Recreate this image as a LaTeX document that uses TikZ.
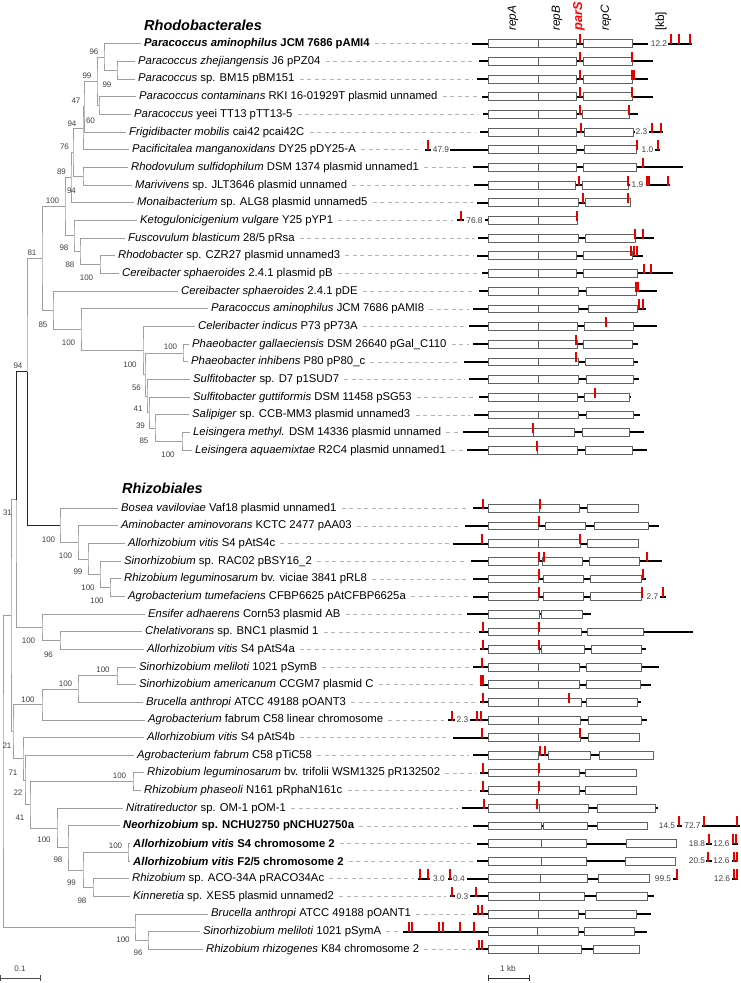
\documentclass[tikz,border=0pt]{standalone}
\usepackage{fontspec}
\setmainfont{Liberation Sans}
\usetikzlibrary{positioning, calc}

% gene map helpers
\newcommand{\plrow}[4]{% label no., y, line from, line to
  \draw[dots] ([xshift=5pt]l#1.east) -- ({#3-4},#2);
  \draw[dna] (#3,#2) -- (#4,#2);}
\newcommand{\dnaseg}[3]{\draw[dna] (#2,#1) -- (#3,#1);}
\newcommand{\genebox}[2]{\foreach \ga/\gb in {#2} \draw[gene] (\ga,#1-3.9) rectangle (\gb,#1+3.9);}
\newcommand{\genediv}[2]{\foreach \dd in {#2} \draw[gene] (\dd,#1-3.9) -- (\dd,#1+3.9);}
\newcommand{\parsite}[2]{\foreach \tk in {#2} \draw[par] (\tk,#1-9.5) -- (\tk,#1+0.5);}
\newcommand{\kbnum}[4]{\node[kbn] (#1) at (#2,#3) {#4};}

\begin{document}
\begin{tikzpicture}[x=1pt,y=-1pt,
    leaf/.style={anchor=west, inner sep=0pt, font=\fontsize{11.3}{13}\selectfont},
    ttl/.style={anchor=west, inner sep=0pt, font=\fontsize{14.5}{16}\selectfont\bfseries\itshape},
    hdr/.style={rotate=90, anchor=west, inner sep=0pt, font=\fontsize{11.8}{13}\selectfont\itshape},
    bs/.style={inner sep=0pt, text=black!75, font=\fontsize{8}{9}\selectfont},
    kbn/.style={inner sep=0pt, text=black!75, font=\fontsize{8.3}{9}\selectfont},
    br/.style={draw=black!38, line width=0.9pt},
    brk/.style={draw=black!85, line width=1pt},
    dots/.style={draw=black!30, line width=0.6pt, dash pattern=on 4pt off 3.5pt},
    dna/.style={draw=black, line width=2pt},
    gene/.style={draw=black!62, fill=white, line width=0.8pt},
    par/.style={draw=red!90!black, line width=1.3pt},
    ]
    \useasboundingbox (0,0) rectangle (740,983);

    % Titles and column heads
    \node[ttl] (rhodo) at (144,25) {Rhodobacterales};
    \node[ttl] (rhizo) at (122,488) {Rhizobiales};
    \node[hdr] (hrepA) at (513,31) {repA};
    \node[hdr] (hrepB) at (557,31) {repB};
    \node[hdr, text=red, font=\fontsize{12.8}{14}\selectfont\bfseries\itshape] (hparS) at (579,31) {parS};
    \node[hdr] (hrepC) at (606,31) {repC};
    \node[hdr, font=\fontsize{11.8}{13}\selectfont] (hkb) at (661,31) {[kb]};

    % Leaves
    \node[leaf] (l1) at (144,43.7) {\textbf{\textit{Paracoccus aminophilus} JCM 7686 pAMI4}};
    \node[leaf] (l2) at (138,61.4) {\textit{Paracoccus zhejiangensis} J6 pPZ04};
    \node[leaf] (l3) at (138,79.0) {\textit{Paracoccus} sp. BM15 pBM151};
    \node[leaf] (l4) at (139,96.7) {\textit{Paracoccus contaminans} RKI 16-01929T plasmid unnamed};
    \node[leaf] (l5) at (134,114.4) {\textit{Paracoccus} yeei TT13 pTT13-5};
    \node[leaf] (l6) at (129,132.1) {\textit{Frigidibacter mobilis} cai42 pcai42C};
    \node[leaf] (l7) at (132,149.7) {\textit{Pacificitalea manganoxidans} DY25 pDY25-A};
    \node[leaf] (l8) at (131,167.4) {\textit{Rhodovulum sulfidophilum} DSM 1374 plasmid unnamed1};
    \node[leaf] (l9) at (135,185.1) {\textit{Marivivens} sp. JLT3646 plasmid unnamed};
    \node[leaf] (l10) at (137,202.7) {\textit{Monaibacterium} sp. ALG8 plasmid unnamed5};
    \node[leaf] (l11) at (140,220.4) {\textit{Ketogulonicigenium vulgare} Y25 pYP1};
    \node[leaf] (l12) at (128,238.1) {\textit{Fuscovulum blasticum} 28/5 pRsa};
    \node[leaf] (l13) at (118,255.7) {\textit{Rhodobacter} sp. CZR27 plasmid unnamed3};
    \node[leaf] (l14) at (122,273.4) {\textit{Cereibacter sphaeroides} 2.4.1 plasmid pB};
    \node[leaf] (l15) at (181,291.1) {\textit{Cereibacter sphaeroides} 2.4.1 pDE};
    \node[leaf] (l16) at (211,308.8) {\textit{Paracoccus aminophilus} JCM 7686 pAMI8};
    \node[leaf] (l17) at (198,326.4) {\textit{Celeribacter indicus} P73 pP73A};
    \node[leaf] (l18) at (192,344.1) {\textit{Phaeobacter gallaeciensis} DSM 26640 pGal\_C110};
    \node[leaf] (l19) at (191,361.8) {\textit{Phaeobacter inhibens} P80 pP80\_c};
    \node[leaf] (l20) at (193,379.4) {\textit{Sulfitobacter} sp. D7 p1SUD7};
    \node[leaf] (l21) at (193,397.1) {\textit{Sulfitobacter guttiformis} DSM 11458 pSG53};
    \node[leaf] (l22) at (192,414.8) {\textit{Salipiger} sp. CCB-MM3 plasmid unnamed3};
    \node[leaf] (l23) at (193,432.4) {\textit{Leisingera methyl.} DSM 14336 plasmid unnamed};
    \node[leaf] (l24) at (195,450.1) {\textit{Leisingera aquaemixtae} R2C4 plasmid unnamed1};
    \node[leaf] (l25) at (121,508.3) {\textit{Bosea vaviloviae} Vaf18 plasmid unnamed1};
    \node[leaf] (l26) at (121,525.9) {\textit{Aminobacter aminovorans} KCTC 2477 pAA03};
    \node[leaf] (l27) at (128,543.6) {\textit{Allorhizobium vitis} S4 pAtS4c};
    \node[leaf] (l28) at (124,561.2) {\textit{Sinorhizobium} sp. RAC02 pBSY16\_2};
    \node[leaf] (l29) at (124,578.9) {\textit{Rhizobium leguminosarum} bv. viciae 3841 pRL8};
    \node[leaf] (l30) at (128,596.5) {\textit{Agrobacterium tumefaciens} CFBP6625 pAtCFBP6625a};
    \node[leaf] (l31) at (148,614.1) {\textit{Ensifer adhaerens} Corn53 plasmid AB};
    \node[leaf] (l32) at (145,631.8) {\textit{Chelativorans} sp. BNC1 plasmid 1};
    \node[leaf] (l33) at (147,649.4) {\textit{Allorhizobium vitis} S4 pAtS4a};
    \node[leaf] (l34) at (139,667.1) {\textit{Sinorhizobium meliloti} 1021 pSymB};
    \node[leaf] (l35) at (139,684.7) {\textit{Sinorhizobium americanum} CCGM7 plasmid C};
    \node[leaf] (l36) at (146,702.3) {\textit{Brucella anthropi} ATCC 49188 pOANT3};
    \node[leaf] (l37) at (148,720.0) {\textit{Agrobacterium} fabrum C58 linear chromosome};
    \node[leaf] (l38) at (147,737.6) {\textit{Allorhizobium vitis} S4 pAtS4b};
    \node[leaf] (l39) at (137,755.3) {\textit{Agrobacterium fabrum} C58 pTiC58};
    \node[leaf] (l40) at (147,772.9) {\textit{Rhizobium leguminosarum} bv. trifolii WSM1325 pR132502};
    \node[leaf] (l41) at (144,790.5) {\textit{Rhizobium phaseoli} N161 pRphaN161c};
    \node[leaf] (l42) at (126,808.2) {\textit{Nitratireductor} sp. OM-1 pOM-1};
    \node[leaf] (l43) at (123,825.8) {\textbf{\textit{Neorhizobium} sp. NCHU2750 pNCHU2750a}};
    \node[leaf] (l44) at (133,843.5) {\textbf{\textit{Allorhizobium vitis} S4 chromosome 2}};
    \node[leaf] (l45) at (133,861.1) {\textbf{\textit{Allorhizobium vitis} F2/5 chromosome 2}};
    \node[leaf] (l46) at (132,878.7) {\textit{Rhizobium} sp. ACO-34A pRACO34Ac};
    \node[leaf] (l47) at (133,896.4) {\textit{Kinneretia} sp. XES5 plasmid unnamed2};
    \node[leaf] (l48) at (211,914.0) {\textit{Brucella anthropi} ATCC 49188 pOANT1};
    \node[leaf] (l49) at (203,931.7) {\textit{Sinorhizobium meliloti} 1021 pSymA};
    \node[leaf] (l50) at (206,949.3) {\textit{Rhizobium rhizogenes} K84 chromosome 2};
    \foreach \i in {1,...,50} \coordinate (t\i) at ([xshift=-3pt]l\i.west);

    % Internal nodes, Rhodobacterales
    \coordinate (nA) at (117,70.2);  \coordinate (nB) at (104,57.0);
    \coordinate (nC) at (99,105.6);  \coordinate (nD) at (97,81.3);
    \coordinate (nE) at (84,106.7);  \coordinate (nF) at (83,128.2);
    \coordinate (nG) at (83,176.3);  \coordinate (nH) at (73,152.3);
    \coordinate (nI) at (71,177.5);  \coordinate (nN) at (100,264.6);
    \coordinate (nM) at (80,251.4);  \coordinate (nL) at (74,235.9);
    \coordinate (nK) at (65,206.7);  \coordinate (nT) at (183,353.0);
    \coordinate (nV) at (182,441.3); \coordinate (nW) at (155,428.1);
    \coordinate (nX) at (149,412.6); \coordinate (nY) at (147,396.0);
    \coordinate (nS) at (145,374.5); \coordinate (nR) at (143,350.5);
    \coordinate (nQ) at (81,329.7);  \coordinate (nP) at (53,310.4);
    \coordinate (nO) at (42,258.6);  \coordinate (nZ) at (27,371.5);
    % Internal nodes, Rhizobiales
    \coordinate (ns1) at (110,587.7); \coordinate (ns2) at (100,574.5);
    \coordinate (ns3) at (88,559.1);  \coordinate (ns4) at (78,542.5);
    \coordinate (nBc) at (60,525.4);  \coordinate (nk) at (60,640.6);
    \coordinate (nl) at (42,627.4);   \coordinate (n31) at (16,499.5);
    \coordinate (nj) at (117,675.9);  \coordinate (ni) at (78,689.1);
    \coordinate (nh) at (42,704.6);   \coordinate (nRl) at (133,781.7);
    \coordinate (nAv) at (128,852.3); \coordinate (nRK) at (93,887.6);
    \coordinate (na) at (83,870.0);   \coordinate (nb) at (68,847.9);
    \coordinate (nc) at (57,828.1);   \coordinate (nd) at (30,804.9);
    \coordinate (ne) at (25,780.1);   \coordinate (nf) at (23,758.9);
    \coordinate (ng) at (13,731.8);   \coordinate (nq) at (11,615.7);
    \coordinate (nt1) at (148,940.5); \coordinate (nt2) at (135,927.3);
    \coordinate (nroot) at (3,771.5);

    % Branches
    \draw[br] (t2) -| (nA) |- (t3);
    \draw[br] (t1) -| (nB) |- (nA);
    \draw[br] (t4) -| (nC) |- (t5);
    \draw[br] (nB) -| (nD) |- (nC);
    \draw[br] (nD) -| (nE) |- (t6);
    \draw[br] (nE) -| (nF) |- (t7);
    \draw[br] (t8) -| (nG) |- (t9);
    \draw[br] (nF) -| (nH) |- (nG);
    \draw[br] (nH) -| (nI) |- (t10);
    \draw[br] (t13) -| (nN) |- (t14);
    \draw[br] (t12) -| (nM) |- (nN);
    \draw[br] (t11) -| (nL) |- (nM);
    \draw[br] (nI) -| (nK) |- (nL);
    \draw[br] (t18) -| (nT) |- (t19);
    \draw[br] (t23) -| (nV) |- (t24);
    \draw[br] (t22) -| (nW) |- (nV);
    \draw[br] (t21) -| (nX) |- (nW);
    \draw[br] (t20) -| (nY) |- (nX);
    \draw[br] (nT) -| (nS) |- (nY);
    \draw[br] (t17) -| (nR) |- (nS);
    \draw[br] (t16) -| (nQ) |- (nR);
    \draw[br] (t15) -| (nP) |- (nQ);
    \draw[br] (nK) -| (nO) |- (nP);
    \draw[br] (t29) -| (ns1) |- (t30);
    \draw[br] (t28) -| (ns2) |- (ns1);
    \draw[br] (t27) -| (ns3) |- (ns2);
    \draw[br] (t26) -| (ns4) |- (ns3);
    \draw[br] (t25) -| (nBc) |- (ns4);
    \draw[br] (nO) -| (nZ) |- (nBc);
    \draw[brk] (nZ) |- (nBc);
    \draw[br] (t32) -| (nk) |- (t33);
    \draw[br] (t31) -| (nl) |- (nk);
    \draw[br] (nZ) -| (n31) |- (nl);
    \draw[brk] (nZ) -| (n31);
    \draw[br] (t34) -| (nj) |- (t35);
    \draw[br] (nj) -| (ni) |- (t36);
    \draw[br] (ni) -| (nh) |- (t37);
    \draw[br] (t40) -| (nRl) |- (t41);
    \draw[br] (t44) -| (nAv) |- (t45);
    \draw[br] (t46) -| (nRK) |- (t47);
    \draw[br] (nAv) -| (na) |- (nRK);
    \draw[br] (t43) -| (nb) |- (na);
    \draw[br] (t42) -| (nc) |- (nb);
    \draw[br] (nRl) -| (nd) |- (nc);
    \draw[br] (t39) -| (ne) |- (nd);
    \draw[br] (t38) -| (nf) |- (ne);
    \draw[br] (nh) -| (ng) |- (nf);
    \draw[br] (n31) -| (nq) |- (ng);
    \draw[br] (t49) -| (nt1) |- (t50);
    \draw[br] (t48) -| (nt2) |- (nt1);
    \draw[br] (nq) -| (nroot) |- (nt2);

    % Bootstrap values
    \foreach \bx/\by/\bt [count=\k] in {94/52/96, 87/76/99, 107/84.5/99, 76/101/47,
      72/123.5/94, 90.5/120.5/60, 64.5/147/76, 61.5/171.5/89, 71.5/190.5/94,
      52.5/201/100, 64/248/98, 32/252.5/81, 70/265/88, 86.5/278/100, 43/324.5/85,
      68.5/343/100, 170.5/347/100, 130/364.5/100, 136.5/387.5/56, 138/409/41,
      140.5/425.5/39, 144/440.5/85, 168/454.5/100, 18/366/94,
      7.5/513/31, 48.5/539.5/100, 65.5/555.5/100, 78/572/99, 88/587.5/100,
      97/600.5/100, 28.5/640.5/100, 48.5/654.5/96, 103/670/100, 65.5/683.5/100,
      28/699.5/100, 7/745.5/21, 13/773/71, 18/793/22, 20/818/41, 119.5/775.5/100,
      44/840/100, 115.5/845.5/100, 58/860/98, 71.5/883/99, 82/901/98,
      123/940/100, 138/953/96}
      \node[bs] (bv\k) at (\bx,\by) {\bt};

    % Gene maps, Rhodobacterales
    \plrow{1}{43.7}{472}{648} \genebox{43.7}{488/576,583/632} \genediv{43.7}{538} \parsite{43.7}{580}
    \kbnum{k1}{659}{43.7}{12.2} \dnaseg{43.7}{668}{692} \parsite{43.7}{671,679,690}
    \plrow{2}{61.4}{479}{653} \genebox{61.4}{488/576,583/632} \genediv{61.4}{538} \parsite{61.4}{580,632}
    \plrow{3}{79.0}{477}{648} \genebox{79.0}{488/576,583/632} \genediv{79.0}{538} \parsite{79.0}{580,632,634}
    \plrow{4}{96.7}{482}{653} \genebox{96.7}{488/576,583/632} \genediv{96.7}{538} \parsite{96.7}{580,632}
    \plrow{5}{114.4}{483}{638} \genebox{114.4}{488/576,582/629} \genediv{114.4}{538} \parsite{114.4}{580,629}
    \plrow{6}{132.1}{480}{635} \genebox{132.1}{488/576,584/633} \genediv{132.1}{538} \parsite{132.1}{581}
    \kbnum{k2}{641.5}{132.1}{2.3} \dnaseg{132.1}{649}{663} \parsite{132.1}{652,661}
    \plrow{7}{149.7}{425}{431} \parsite{149.7}{428} \kbnum{k3}{441}{149.7}{47.9} \dnaseg{149.7}{450}{637}
    \genebox{149.7}{488/576,584/636} \genediv{149.7}{538} \parsite{149.7}{637}
    \kbnum{k4}{647.5}{149.7}{1.0} \dnaseg{149.7}{655}{660} \parsite{149.7}{658}
    \plrow{8}{167.4}{473}{683} \genebox{167.4}{488/576,583/636} \genediv{167.4}{538} \parsite{167.4}{643}
    \plrow{9}{185.1}{474}{630} \genebox{185.1}{488/575,582/628} \genediv{185.1}{538} \parsite{185.1}{579,628}
    \kbnum{k5}{637.5}{185.1}{1.9} \dnaseg{185.1}{647}{670} \parsite{185.1}{647,649,668}
    \plrow{10}{202.7}{477}{631} \genebox{202.7}{488/578,585/630} \genediv{202.7}{538} \parsite{202.7}{583,628}
    \plrow{11}{220.4}{457}{464} \parsite{220.4}{461} \kbnum{k6}{474.5}{220.4}{76.8} \dnaseg{220.4}{485}{577}
    \genebox{220.4}{488/577} \genediv{220.4}{538} \parsite{220.4}{577}
    \plrow{12}{238.1}{478}{654} \genebox{238.1}{488/578,585/635} \genediv{238.1}{538} \parsite{238.1}{635,643}
    \plrow{13}{255.7}{477}{643} \genebox{255.7}{488/576,583/632} \genediv{255.7}{538} \parsite{255.7}{631,634,637}
    \plrow{14}{273.4}{482}{673} \genebox{273.4}{488/576,583/637} \genediv{273.4}{538} \parsite{273.4}{644,651}
    \plrow{15}{291.1}{479}{657} \genebox{291.1}{488/578,586/636} \genediv{291.1}{538} \parsite{291.1}{636,637,638}
    \plrow{16}{308.8}{473}{646} \genebox{308.8}{488/578,588/637} \genediv{308.8}{538} \parsite{308.8}{639,643}
    \plrow{17}{326.4}{469}{657} \genebox{326.4}{488/577,584/633} \genediv{326.4}{538} \parsite{326.4}{606}
    \plrow{18}{344.1}{473}{638} \genebox{344.1}{488/577,583/632} \genediv{344.1}{538} \parsite{344.1}{576}
    \plrow{19}{361.8}{464}{638} \genebox{361.8}{488/578,585/633} \genediv{361.8}{538} \parsite{361.8}{576}
    \plrow{20}{379.4}{469}{639} \genebox{379.4}{488/578,586/633} \genediv{379.4}{538}
    \plrow{21}{397.1}{479}{631} \genebox{397.1}{488/577,584/629} \genediv{397.1}{538} \parsite{397.1}{595}
    \plrow{22}{414.8}{474}{640} \genebox{414.8}{488/578,586/633} \genediv{414.8}{538}
    \plrow{23}{432.4}{463}{644} \genebox{432.4}{488/574,582/629} \genediv{432.4}{533} \parsite{432.4}{533}
    \plrow{24}{450.1}{467}{647} \genebox{450.1}{488/577,585/632} \genediv{450.1}{537} \parsite{450.1}{537}

    % Gene maps, Rhizobiales
    \plrow{25}{508.3}{473}{638} \genebox{508.3}{488/579,587/638} \genediv{508.3}{539} \parsite{508.3}{483,540}
    \plrow{26}{525.9}{465}{659} \genebox{525.9}{488/538,545/585,594/648} \parsite{525.9}{539}
    \plrow{27}{543.6}{453}{639} \genebox{543.6}{488/580,587/638} \genediv{543.6}{538} \parsite{543.6}{482,580}
    \plrow{28}{561.2}{471}{662} \genebox{561.2}{488/538,542/582,589/639} \parsite{561.2}{539,544,647}
    \plrow{29}{578.9}{473}{646} \genebox{578.9}{488/538,543/583,590/641} \parsite{578.9}{539,643}
    \plrow{30}{596.5}{473}{643} \genebox{596.5}{488/538,543/583,590/641} \parsite{596.5}{539,642}
    \kbnum{k7}{652.5}{596.5}{2.7} \dnaseg{596.5}{660}{666} \parsite{596.5}{663}
    \plrow{31}{614.1}{467}{591} \genebox{614.1}{488/539,541/582}
    \plrow{32}{631.8}{479}{693} \genebox{631.8}{488/581,587/643} \genediv{631.8}{538} \parsite{631.8}{483,539}
    \plrow{33}{649.4}{480}{646} \genebox{649.4}{488/539,541/584,591/641} \parsite{649.4}{483,539}
    \plrow{34}{667.1}{473}{659} \genebox{667.1}{488/579,586/641} \genediv{667.1}{538} \parsite{667.1}{482}
    \plrow{35}{684.7}{480}{651} \genebox{684.7}{488/579,586/640} \genediv{684.7}{538} \parsite{684.7}{481,483}
    \plrow{36}{702.3}{480}{641} \genebox{702.3}{488/581,586/637} \genediv{702.3}{538} \parsite{702.3}{483,569}
    \plrow{37}{720.0}{448}{455} \parsite{720.0}{452} \kbnum{k8}{462.5}{720.0}{2.3} \dnaseg{720.0}{470}{647}
    \genebox{720.0}{488/580,588/641} \genediv{720.0}{538} \parsite{720.0}{477,481}
    \plrow{38}{737.6}{453}{639} \genebox{737.6}{488/580,588/639} \genediv{737.6}{538} \parsite{737.6}{482,580}
    \plrow{39}{755.3}{473}{653} \genebox{755.3}{488/538,548/590,599/653} \parsite{755.3}{540,545}
    \plrow{40}{772.9}{480}{637} \genebox{772.9}{488/579,585/636} \genediv{772.9}{538} \parsite{772.9}{483,539}
    \plrow{41}{790.5}{480}{637} \genebox{790.5}{488/579,585/636} \genediv{790.5}{538} \parsite{790.5}{483,539}
    \plrow{42}{808.2}{462}{658} \genebox{808.2}{488/588,597/655} \genediv{808.2}{539} \parsite{808.2}{484,537}
    \plrow{43}{825.8}{473}{647} \genebox{825.8}{488/541,543/587,597/647}
    \kbnum{k9}{667}{825.8}{14.5} \dnaseg{825.8}{677}{682} \parsite{825.8}{679}
    \kbnum{k10}{692.5}{825.8}{72.7} \dnaseg{825.8}{702}{740} \parsite{825.8}{704,737}
    \plrow{44}{843.5}{477}{677} \genebox{843.5}{488/586,626/676} \genediv{843.5}{541}
    \kbnum{k11}{697}{843.5}{18.8} \dnaseg{843.5}{706}{712} \parsite{843.5}{709}
    \kbnum{k12}{721.5}{843.5}{12.6} \dnaseg{843.5}{732}{738} \parsite{843.5}{733,736}
    \plrow{45}{861.1}{477}{675} \genebox{861.1}{488/586,625/675} \genediv{861.1}{541}
    \kbnum{k13}{697}{861.1}{20.5} \dnaseg{861.1}{706}{712} \parsite{861.1}{708}
    \kbnum{k14}{721.5}{861.1}{12.6} \dnaseg{861.1}{732}{738} \parsite{861.1}{734,737}
    \plrow{46}{878.7}{418}{430} \parsite{878.7}{420,428} \kbnum{k15}{439}{878.7}{3.0}
    \dnaseg{878.7}{448}{452} \parsite{878.7}{450} \kbnum{k16}{459}{878.7}{0.4} \dnaseg{878.7}{467}{649}
    \genebox{878.7}{488/587,598/649} \genediv{878.7}{540}
    \kbnum{k17}{663}{878.7}{99.5} \dnaseg{878.7}{673}{678} \parsite{878.7}{677}
    \kbnum{k18}{722}{878.7}{12.6} \dnaseg{878.7}{732}{738} \parsite{878.7}{734,737}
    \plrow{47}{896.4}{450}{455} \parsite{896.4}{452} \kbnum{k19}{462.5}{896.4}{0.3} \dnaseg{896.4}{470}{654}
    \genebox{896.4}{488/584,596/647} \genediv{896.4}{539} \parsite{896.4}{476}
    \plrow{48}{914.0}{473}{651} \genebox{914.0}{488/578,585/636} \genediv{914.0}{538} \parsite{914.0}{478,482}
    \plrow{49}{931.7}{403}{647} \genebox{931.7}{488/578,584/634} \genediv{931.7}{537} \parsite{931.7}{409,412,439,443,460,474}
    \plrow{50}{949.3}{476}{639} \genebox{949.3}{488/581,593/639} \genediv{949.3}{538} \parsite{949.3}{479,482}

    % Scale bars
    \node[bs] (sctree) at (20,969) {0.1};
    \draw[draw=black!70, line width=0.8pt] (0.5,975) -- (0.5,981) (0.5,978) -- (40,978) (40,975) -- (40,981);
    \node[kbn] (scmap) at (508,969) {1 kb};
    \draw[draw=black!80, line width=0.8pt] (488,975) -- (488,981) (488,978) -- (529,978) (529,975) -- (529,981);
\end{tikzpicture}
\end{document}
